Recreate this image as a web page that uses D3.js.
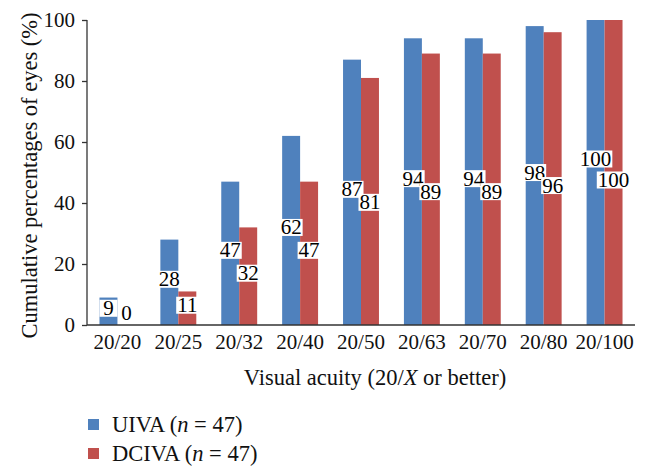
<!DOCTYPE html>
<html><head><meta charset="utf-8">
<script src="https://cdn.jsdelivr.net/npm/d3@7/dist/d3.min.js"></script>
<style>html,body{margin:0;padding:0;background:#fff;}svg{display:block;font-family:"Liberation Serif","DejaVu Serif",serif;}</style>
</head><body><svg id="c" width="651" height="475"></svg>
<script>
const categories = ["20/20","20/25","20/32","20/40","20/50","20/63","20/70","20/80","20/100"];
const uiva = [9, 28, 47, 62, 87, 94, 94, 98, 100];
const dciva = [0, 11, 32, 47, 81, 89, 89, 96, 100];
const seriesNames = ["UIVA", "DCIVA"];
const yTicks = [0, 20, 40, 60, 80, 100];

const colors = {UIVA: "#4F81BD", DCIVA: "#C0504D"};
const svg = d3.select("#c");
const L = 87, R = 635, T = 20, B = 325;

const x = d3.scaleBand().domain(categories).range([L, R]).paddingInner(0.41).paddingOuter(0.205);
const xs = d3.scaleBand().domain(seriesNames).range([0, x.bandwidth()]);
const y = d3.scaleLinear().domain([0, 100]).range([B, T]);

const rows = categories.map((c, i) => ({cat: c, UIVA: uiva[i], DCIVA: dciva[i]}));

// bars
seriesNames.forEach(s => {
  svg.append("g").selectAll("rect").data(rows).join("rect")
    .attr("x", d => x(d.cat) + xs(s))
    .attr("y", d => y(d[s]))
    .attr("width", xs.bandwidth())
    .attr("height", d => y(0) - y(d[s]))
    .attr("fill", colors[s]);
});

// axes
const yAxis = svg.append("g").attr("transform", `translate(${L},0)`)
  .call(d3.axisLeft(y).tickValues(yTicks).tickSize(5).tickPadding(7));
yAxis.select(".domain").attr("stroke", "#333").attr("stroke-width", 1.3).attr("d", `M0,${T}V${B}`);
yAxis.selectAll(".tick line").attr("stroke", "#333").attr("stroke-width", 1.3);
yAxis.selectAll(".tick text").attr("font-size", 21).attr("fill", "#111")
  .attr("font-family", "Liberation Serif, serif");

const xAxis = svg.append("g").attr("transform", `translate(0,${B})`)
  .call(d3.axisBottom(x).tickSize(0).tickPadding(9));
xAxis.select(".domain").attr("stroke", "#333").attr("stroke-width", 1.3).attr("d", `M${L},0H${R}`);
xAxis.selectAll(".tick text").attr("font-size", 21).attr("fill", "#111")
  .attr("font-family", "Liberation Serif, serif");

// value labels: centered at half height, red pushed apart from blue when overlapping
const lab = rows.map(d => {
  const pos = {};
  seriesNames.forEach(s => { pos[s] = Math.min(y(d[s] / 2) - 3, y(0) - 12); });
  const wide = String(d.UIVA).length > 2 || String(d.DCIVA).length > 2;
  const gap = wide ? 20 : 13;
  const diff = pos.DCIVA - pos.UIVA;
  if (Math.abs(diff) < gap && d.DCIVA > 0) {
    if (Math.abs(diff) < 0.5) { const m = pos.UIVA; pos.UIVA = m - gap / 2 - 0.5; pos.DCIVA = m + gap / 2 + 0.5; }
    else if (diff > 0) pos.DCIVA = pos.UIVA + gap;
    else pos.UIVA = pos.DCIVA + gap;
  }
  return pos;
});
seriesNames.forEach(s => {
  const g = svg.append("g");
  rows.forEach((d, i) => {
    const cx = x(d.cat) + xs(s) + xs.bandwidth() / 2;
    const cy = lab[i][s];
    const t = g.append("text").attr("x", cx).attr("y", cy)
      .attr("text-anchor", "middle").attr("dominant-baseline", "central")
      .attr("font-size", 21).attr("fill", "#000").text(d[s]);
    const bb = t.node().getBBox();
    const w = d[s] > 0 ? Math.max(bb.width + 2, xs.bandwidth()) : bb.width + 2;
    g.insert("rect", () => t.node())
      .attr("x", cx - w / 2).attr("y", cy - 8.5)
      .attr("width", w).attr("height", 17).attr("fill", "#fff");
  });
});

// axis titles
svg.append("text").attr("transform", `translate(29,${(18 + 333) / 2}) rotate(-90)`)
  .attr("text-anchor", "middle").attr("dominant-baseline", "central")
  .attr("font-size", 22.5).attr("fill", "#111").text("Cumulative percentages of eyes (%)");

const xt = svg.append("text").attr("x", 375).attr("y", 385)
  .attr("text-anchor", "middle").attr("font-size", 22.5).attr("fill", "#111");
xt.append("tspan").text("Visual acuity (20/");
xt.append("tspan").attr("font-style", "italic").text("X");
xt.append("tspan").text(" or better)");

// legend
seriesNames.forEach((s, i) => {
  const ly = 419 + i * 29;
  svg.append("rect").attr("x", 88).attr("y", ly).attr("width", 11).attr("height", 11).attr("fill", colors[s]);
  const t = svg.append("text").attr("x", 112).attr("y", ly + 12.5).attr("font-size", 22.5).attr("fill", "#111");
  t.append("tspan").text(s + " (");
  t.append("tspan").attr("font-style", "italic").text("n");
  t.append("tspan").text(" = 47)");
});
</script></body></html>
